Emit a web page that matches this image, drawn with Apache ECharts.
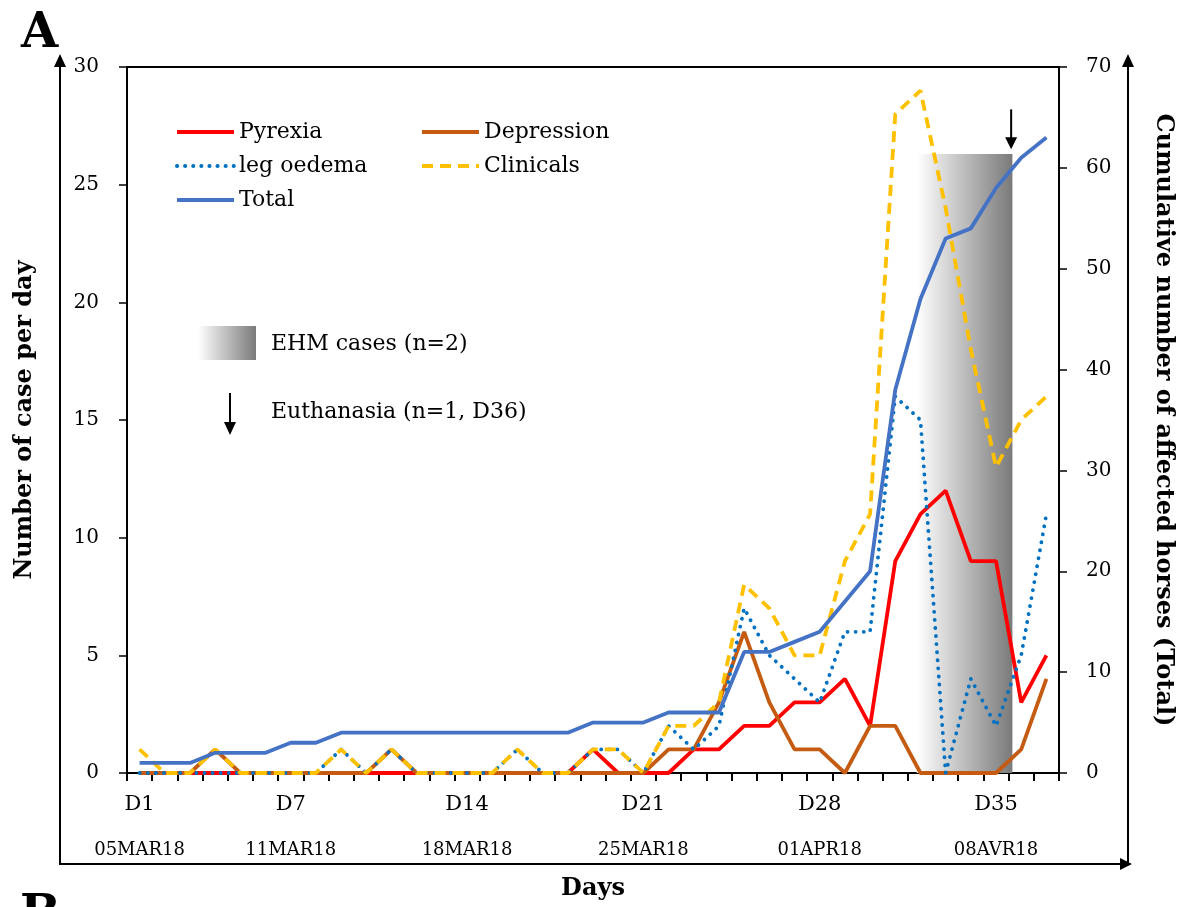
<!DOCTYPE html>
<html>
<head>
<meta charset="utf-8">
<script src="https://cdn.jsdelivr.net/npm/echarts@6.0.0/dist/echarts.min.js"></script>
<style>
  html, body { margin: 0; padding: 0; background: #fff; }
  #main { width: 1183px; height: 907px; }
</style>
</head>
<body>
<div id="main"></div>
<script>
// days of follow-up
var days = ['D1','D2','D3','D4','D5','D6','D7','D8','D9','D10','D11','D12','D13','D14','D15','D16','D17','D18','D19',
            'D20','D21','D22','D23','D24','D25','D26','D27','D28','D29','D30','D31','D32','D33','D34','D35','D36','D37'];
// only these days get a label, with their date underneath
var labelDays  = ['D1', 'D7', 'D14', 'D21', 'D28', 'D35'];
var labelDates = ['05MAR18', '11MAR18', '18MAR18', '25MAR18', '01APR18', '08AVR18'];

// cases per day (left axis)
var pyrexia    = [0,0,0,0,0,0,0,0,0,0,0,0,0,0,0,0,0,0,1,0,0,0,1,1,2,2,3,3,4,2,9,11,12,9,9,3,5];
var depression = [0,0,0,1,0,0,0,0,0,0,1,0,0,0,0,0,0,0,0,0,0,1,1,3,6,3,1,1,0,2,2,0,0,0,0,1,4];
var legOedema  = [0,0,0,0,0,0,0,0,1,0,1,0,0,0,0,1,0,0,1,1,0,2,1,2,7,5,4,3,6,6,16,15,0,4,2,5,11];
var clinicals  = [1,0,0,1,0,0,0,0,1,0,1,0,0,0,0,1,0,0,1,1,0,2,2,3,8,7,5,5,9,11,28,29,24,18,13,15,16];
// cumulative horses (right axis)
var total      = [1,1,1,2,2,2,3,3,4,4,4,4,4,4,4,4,4,4,5,5,5,6,6,6,12,12,13,14,17,20,38,47,53,54,58,61,63];

// EHM period [from, to, top] in day-axis units / left-axis units
var ehmPeriod = [[31.35, 35.15, 26.3]];
// euthanasia arrow [x, from, to]
var euthanasia = [[35.1, 28.2, 26.5]];

var serif = 'DejaVu Serif';
var chart = echarts.init(document.getElementById('main'));

var grayGrad = function () {
    return new echarts.graphic.LinearGradient(0, 0, 1, 0, [
        {offset: 0, color: '#ffffff'},
        {offset: 1, color: '#7a7a7a'}
    ]);
};

var legendBase = {
    orient: 'vertical', top: 121, padding: 0,
    itemWidth: 57, itemHeight: 14, itemGap: 12,
    itemStyle: {color: 'rgba(0,0,0,0)', borderColor: 'rgba(0,0,0,0)', borderWidth: 0},
    lineStyle: {width: 4},
    textStyle: {fontFamily: serif, fontSize: 22, color: '#000', lineHeight: 22}
};

option = {
    backgroundColor: '#fff',
    animation: false,
    textStyle: {fontFamily: serif, color: '#000'},
    title: {
        text: 'A', left: 16, top: 6,
        textStyle: {fontFamily: serif, fontSize: 48, fontWeight: 'bold', color: '#000'}
    },
    grid: {
        left: 127, top: 67, width: 933, height: 706,
        show: true, borderColor: '#000', borderWidth: 2, containLabel: false
    },
    legend: [
        Object.assign({}, legendBase, {data: ['Pyrexia', 'leg oedema', 'Total'], left: 175}),
        Object.assign({}, legendBase, {data: ['Depression', 'Clinicals'], left: 420})
    ],
    xAxis: [
        {
            type: 'category',
            data: days,
            boundaryGap: true,
            name: 'Days',
            nameLocation: 'middle',
            nameGap: 104,
            nameTextStyle: {fontFamily: serif, fontSize: 24, fontWeight: 'bold', color: '#000'},
            axisLine: {lineStyle: {color: '#000', width: 2}},
            axisTick: {show: true, interval: 0, length: 8, lineStyle: {color: '#000', width: 2}},
            axisLabel: {
                interval: function (index, value) { return labelDays.indexOf(value) >= 0; },
                margin: 10,
                formatter: function (value) {
                    var k = labelDays.indexOf(value);
                    return '{d|' + value + '}\n{m|' + labelDates[k] + '}';
                },
                rich: {
                    d: {fontFamily: serif, fontSize: 21, color: '#000', lineHeight: 44},
                    m: {fontFamily: serif, fontSize: 18, color: '#000', lineHeight: 46}
                }
            },
            splitLine: {show: false}
        },
        {
            type: 'value', min: 0, max: 37, show: false
        }
    ],
    yAxis: [
        {
            type: 'value', min: 0, max: 30, interval: 5,
            name: 'Number of case per day',
            nameLocation: 'middle', nameRotate: 90, nameGap: 90,
            nameTextStyle: {fontFamily: serif, fontSize: 24, fontWeight: 'bold', color: '#000'},
            axisLine: {show: true, lineStyle: {color: '#000', width: 2}},
            axisTick: {show: true, length: 8, lineStyle: {color: '#000', width: 1.5}},
            axisLabel: {margin: 28, fontFamily: serif, fontSize: 20, color: '#000'},
            splitLine: {show: false}
        },
        {
            type: 'value', min: 0, max: 70, interval: 10, position: 'right',
            name: 'Cumulative number of affected horses (Total)',
            nameLocation: 'middle', nameRotate: -90, nameGap: 92,
            nameTextStyle: {fontFamily: serif, fontSize: 24, fontWeight: 'bold', color: '#000'},
            axisLine: {show: true, lineStyle: {color: '#000', width: 2}},
            axisTick: {show: true, length: 8, lineStyle: {color: '#000', width: 1.5}},
            axisLabel: {margin: 27, fontFamily: serif, fontSize: 20, color: '#000'},
            splitLine: {show: false}
        }
    ],
    series: [
        {
            type: 'custom', name: 'EHM', xAxisIndex: 1, yAxisIndex: 0, z: 1,
            data: ehmPeriod,
            renderItem: function (params, api) {
                var p0 = api.coord([api.value(0), api.value(2)]);
                var p1 = api.coord([api.value(1), 0]);
                return {
                    type: 'rect',
                    shape: {x: p0[0], y: p0[1], width: p1[0] - p0[0], height: p1[1] - p0[1]},
                    style: {fill: grayGrad()}
                };
            }
        },
        {
            type: 'custom', name: 'Euthanasia', xAxisIndex: 1, yAxisIndex: 0, z: 5,
            data: euthanasia,
            renderItem: function (params, api) {
                var a = api.coord([api.value(0), api.value(1)]);
                var b = api.coord([api.value(0), api.value(2)]);
                return {
                    type: 'group',
                    children: [
                        {type: 'line', shape: {x1: a[0], y1: a[1], x2: b[0], y2: b[1] - 10},
                         style: {stroke: '#000', lineWidth: 2}},
                        {type: 'polygon', shape: {points: [[b[0] - 6, b[1] - 12], [b[0] + 6, b[1] - 12], [b[0], b[1]]]},
                         style: {fill: '#000'}}
                    ]
                };
            }
        },
        {
            name: 'Pyrexia', type: 'line', data: pyrexia, yAxisIndex: 0,
            symbol: 'none', z: 2,
            lineStyle: {color: '#ff0000', width: 3.8},
            itemStyle: {color: '#ff0000'}
        },
        {
            name: 'Depression', type: 'line', data: depression, yAxisIndex: 0,
            symbol: 'none', z: 2,
            lineStyle: {color: '#c55a11', width: 3.8},
            itemStyle: {color: '#c55a11'}
        },
        {
            name: 'leg oedema', type: 'line', data: legOedema, yAxisIndex: 0,
            symbol: 'none', z: 3,
            lineStyle: {color: '#0070c0', width: 3.8, type: [0.1, 8], cap: 'round'},
            itemStyle: {color: '#0070c0'}
        },
        {
            name: 'Clinicals', type: 'line', data: clinicals, yAxisIndex: 0,
            symbol: 'none', z: 3,
            lineStyle: {color: '#ffc000', width: 3.8, type: [11, 7]},
            itemStyle: {color: '#ffc000'}
        },
        {
            name: 'Total', type: 'line', data: total, yAxisIndex: 1,
            symbol: 'none', z: 4,
            lineStyle: {color: '#4472c4', width: 3.8},
            itemStyle: {color: '#4472c4'}
        }
    ],
    graphic: [
        // outer arrowed frame
        {type: 'polyline', shape: {points: [[60, 62], [60, 864], [1124, 864]]}, style: {stroke: '#000', lineWidth: 2, fill: null}},
        {type: 'polygon', shape: {points: [[54, 67], [66, 67], [60, 54]]}, style: {fill: '#000'}},
        {type: 'polygon', shape: {points: [[1120, 858], [1120, 870], [1132, 864]]}, style: {fill: '#000'}},
        {type: 'line', shape: {x1: 1128, y1: 864, x2: 1128, y2: 62}, style: {stroke: '#000', lineWidth: 2}},
        {type: 'polygon', shape: {points: [[1122, 67], [1134, 67], [1128, 54]]}, style: {fill: '#000'}},
        // annotation keys
        {type: 'rect', shape: {x: 198, y: 326, width: 58, height: 34}, style: {fill: grayGrad()}},
        {type: 'text', x: 271, y: 344, style: {text: 'EHM cases (n=2)', font: '22px "DejaVu Serif"', fill: '#000', textVerticalAlign: 'middle'}},
        {type: 'line', shape: {x1: 230, y1: 393, x2: 230, y2: 424}, style: {stroke: '#000', lineWidth: 2}},
        {type: 'polygon', shape: {points: [[224, 422], [236, 422], [230, 435]]}, style: {fill: '#000'}},
        {type: 'text', x: 271, y: 412, style: {text: 'Euthanasia (n=1, D36)', font: '22px "DejaVu Serif"', fill: '#000', textVerticalAlign: 'middle'}},
        {type: 'text', x: 20, y: 893, style: {text: 'B', font: 'bold 48px "DejaVu Serif"', fill: '#000'}}
    ]
};

chart.setOption(option);
</script>
</body>
</html>
